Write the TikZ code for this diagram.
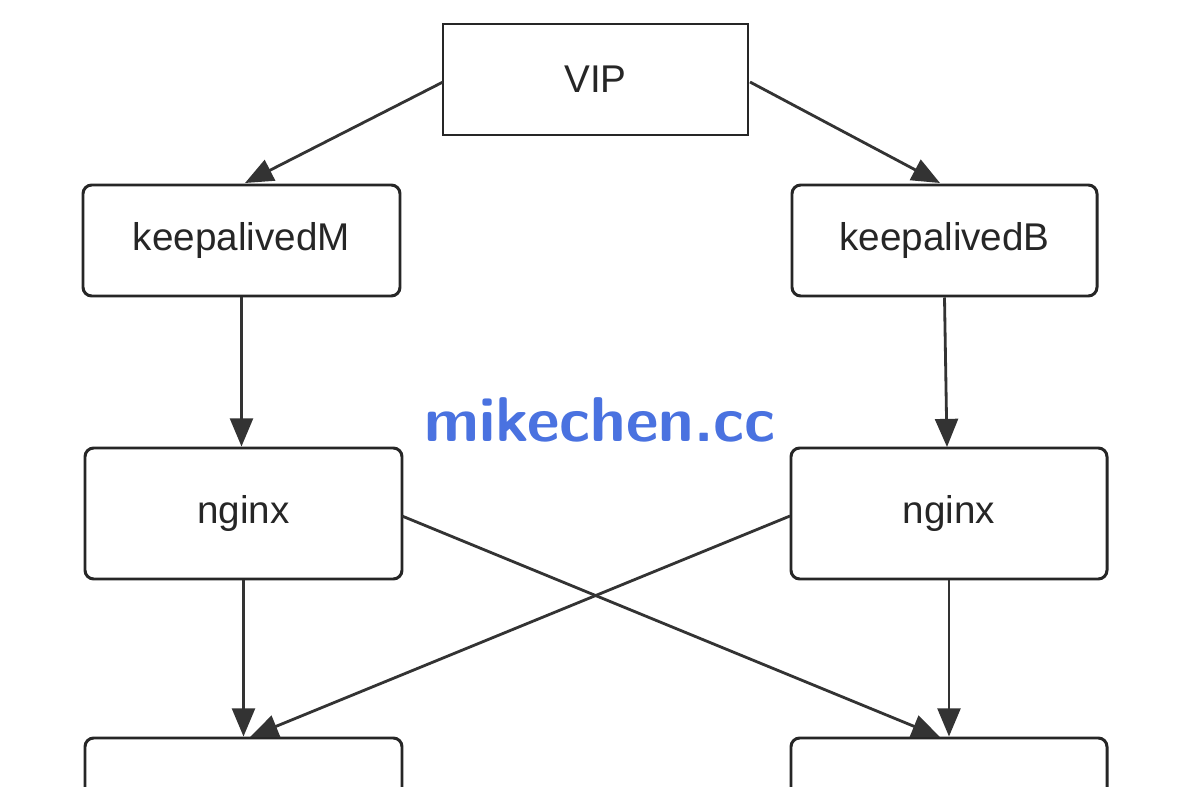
\documentclass[tikz,border=0pt]{standalone}
\usepackage{fontspec}
\setmainfont{Liberation Sans}
\usetikzlibrary{arrows.meta}
\begin{document}
\begin{tikzpicture}[x=0.02cm,y=-0.02cm,
  box/.style={draw=black!85,line width=1.7pt,rounded corners=5pt,inner sep=0pt,font=\fontsize{22}{26}\selectfont,text=black!85},
  arr/.style={draw=black!80,line width=1.6pt,-{Triangle[length=16pt,width=13pt]}}]
\useasboundingbox (0,0) rectangle (1198,787);
\clip (0,0) rectangle (1198,787);
\fill[white] (0,0) rectangle (1198,787);
\node[box,rounded corners=0pt,minimum width=305*0.02cm,minimum height=111*0.02cm] (vip) at (595.5,79.5) {VIP};
\node[box,minimum width=317*0.02cm,minimum height=111*0.02cm] (km) at (241.5,240.5) {keepalivedM};
\node[box,minimum width=305*0.02cm,minimum height=111*0.02cm] (kb) at (944.5,240.5) {keepalivedB};
\node[box,minimum width=317*0.02cm,minimum height=131*0.02cm] (nl) at (243.5,513.5) {nginx};
\node[box,minimum width=316*0.02cm,minimum height=131*0.02cm] (nr) at (949,513.5) {nginx};
\node[box,minimum width=317*0.02cm,minimum height=131*0.02cm] (bl) at (243.5,803.5) {};
\node[box,minimum width=316*0.02cm,minimum height=131*0.02cm] (br) at (949,803.5) {};
\node[font=\fontsize{36}{40}\selectfont\bfseries\sffamily,text={rgb,255:red,74;green,114;blue,224}] (wm) at (600,420) {mikechen.cc};
\coordinate (a1) at (245,183); \coordinate (a2) at (940,183);
\draw[arr] (443,82) -- (a1);
\draw[arr] (750,82) -- (a2);
\draw[arr] (km.south) -- (nl.north -| km.south);
\draw[arr] (kb.south) -- (947,447);
\draw[arr] (nl.south) -- (bl.north);
\draw[arr] (nr.south) -- (br.north);
\draw[arr] (402,516) -- (940,737);
\draw[arr] (790,516) -- (250,737);
\end{tikzpicture}
\end{document}
